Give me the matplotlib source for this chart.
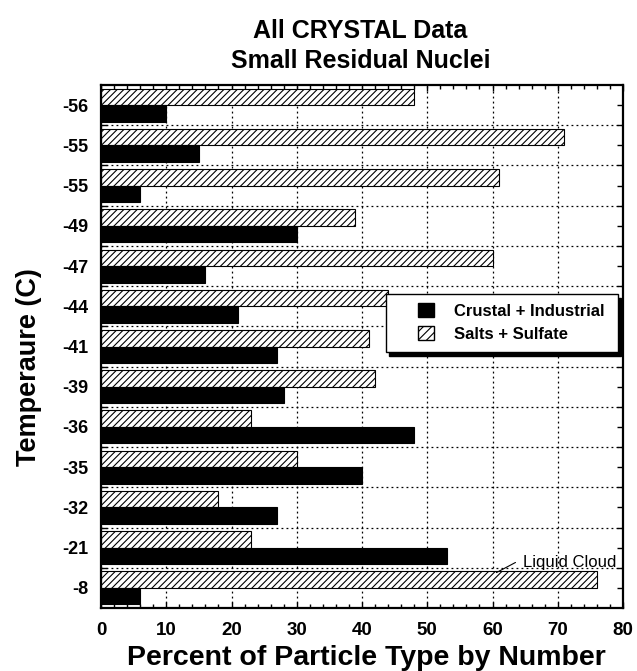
import numpy as np
import matplotlib
matplotlib.use('Agg')
from matplotlib import pyplot as plt
from matplotlib.patches import Patch, Rectangle
from matplotlib.legend_handler import HandlerPatch
from matplotlib.ticker import MultipleLocator

# values, top group first
temps = ['-56', '-55', '-55', '-49', '-47', '-44', '-41', '-39', '-36', '-35', '-32', '-21', '-8']
salts_sulfate = [48, 71, 61, 39, 60, 44, 41, 42, 23, 30, 18, 23, 76]
crustal_industrial = [10, 15, 6, 30, 16, 21, 27, 28, 48, 40, 27, 53, 6]
xticks = [0, 10, 20, 30, 40, 50, 60, 70, 80]

plt.rcParams['font.family'] = ['Liberation Sans', 'DejaVu Sans']
plt.rcParams['hatch.linewidth'] = 0.8


def legend_square(legend, orig_handle, xdescent, ydescent, width, height, fontsize):
    # small square pushed to the right end of the handle box
    w, h = 0.95 * fontsize, 0.85 * fontsize
    return Rectangle((width - w - xdescent, -ydescent + (height - h) / 2), w, h)


fig = plt.figure(figsize=(6.37, 6.71), dpi=100)
ax = fig.add_axes([101 / 637, 1 - 608 / 671, 522 / 637, 523 / 671])

pos = np.arange(len(temps))
ax.barh(pos - 0.205, salts_sulfate, height=0.41, color='white',
        edgecolor='black', hatch='/////', lw=0.8)
ax.barh(pos + 0.205, crustal_industrial, height=0.41, color='black',
        edgecolor='black', lw=0.8)

ax.set_xlim(0, 80)
ax.set_ylim(len(temps) - 0.5, -0.5)

ax.set_xticks(xticks)
ax.xaxis.set_minor_locator(MultipleLocator(2))
ax.set_yticks(pos, temps)
ax.set_yticks(pos[:-1] + 0.5, minor=True)
ax.tick_params(which='both', direction='in', top=True, right=True, length=4, width=1)
ax.tick_params(axis='x', which='minor', length=3)
ax.tick_params(axis='x', pad=10, labelsize=13.5)
ax.tick_params(axis='y', pad=9, labelsize=13)
for lbl in ax.get_xticklabels() + ax.get_yticklabels():
    lbl.set_fontweight('bold')

dots = (0, (1.5, 2.5))
ax.grid(axis='x', which='major', ls=dots, color='black', lw=0.9)
ax.grid(axis='y', which='minor', ls=dots, color='black', lw=0.9)
ax.set_axisbelow(True)
for sp in ax.spines.values():
    sp.set_linewidth(1.6)

handles = [Patch(facecolor='black', edgecolor='black', label='Crustal + Industrial'),
           Patch(facecolor='white', edgecolor='black', hatch='////', label='Salts + Sulfate')]
leg = ax.legend(handles=handles, loc='upper left', bbox_to_anchor=(0.546, 0.0, 0.444, 0.600),
                mode='expand', borderaxespad=0, prop={'weight': 'bold', 'size': 12},
                fancybox=False, edgecolor='black', framealpha=1,
                shadow={'color': 'black', 'alpha': 1, 'ox': 2.5, 'oy': -2.5},
                borderpad=0.6, labelspacing=0.47, handlelength=2.26, handletextpad=1.2,
                handler_map={Patch: HandlerPatch(patch_func=legend_square)})
leg.get_frame().set_linewidth(1)

ax.annotate('Liquid Cloud', xy=(60.6, 11.62), xytext=(64.7, 11.36), fontsize=12,
            ha='left', va='center',
            arrowprops=dict(arrowstyle='-', color='black', lw=0.8,
                            relpos=(0, 0.75), shrinkA=4, shrinkB=0))

ax.set_xlabel('Percent of Particle Type by Number', fontsize=20.5, fontweight='bold')
ax.xaxis.set_label_coords(0.509, -0.071)
ax.set_ylabel('Temperaure (C)', fontsize=19.5, fontweight='bold')
ax.yaxis.set_label_coords(-0.113, 0.46)

fig.text(0.566, 0.954, 'All CRYSTAL Data', ha='center', va='center', fontsize=18, weight='bold')
fig.text(0.566, 0.909, 'Small Residual Nuclei', ha='center', va='center', fontsize=18, weight='bold')

fig.savefig('out.png', dpi=100)
